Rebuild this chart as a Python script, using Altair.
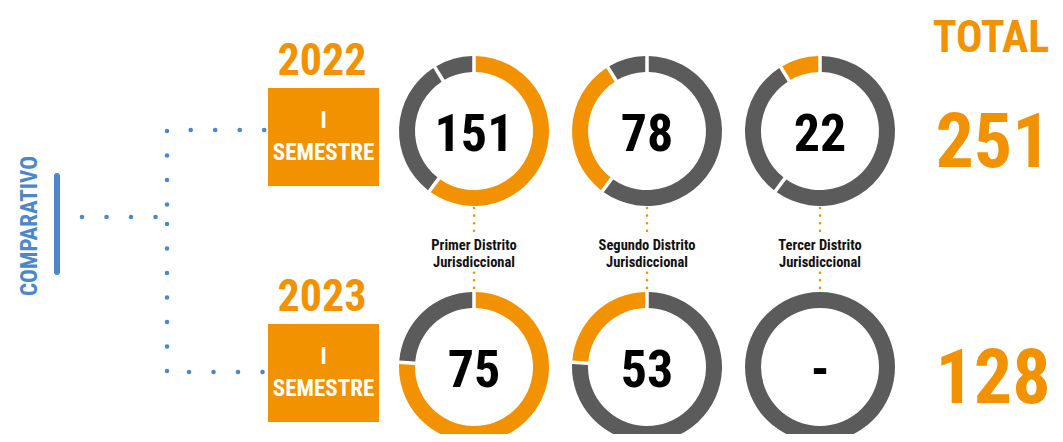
import altair as alt
import pandas as pd

# ---------------- data ----------------
distritos = ["Primer Distrito", "Segundo Distrito", "Tercer Distrito"]
etiquetas_distrito = ["Primer Distrito\nJurisdiccional",
                      "Segundo Distrito\nJurisdiccional",
                      "Tercer Distrito\nJurisdiccional"]
anios = ["2022", "2023"]
casos_2022 = [151, 78, 22]
casos_2023 = [75, 53, 0]
totales = [251, 128]
# shares of each ring as they are drawn in the picture
anillo_2022 = [151, 78, 22]
anillo_2023 = [76, 24, 0]
periodo = ["I", "SEMESTRE"]

# ---------------- styles ----------------
NARANJA = "#F39200"
GRIS = "#5B5B5B"
AZUL = "#4A88CA"
NEGRO = "#000000"
FUENTE = "Roboto Condensed, Liberation Sans Narrow, Arial Narrow, DejaVu Sans Condensed, sans-serif"

# ---------------- tables ----------------
filas = []
for anio, casos, anillo in [("2022", casos_2022, anillo_2022), ("2023", casos_2023, anillo_2023)]:
    total = sum(anillo)
    for i, d in enumerate(distritos):
        if casos[i] == 0:
            filas.append(dict(distrito=d, anio=anio, ini=0.0, fin=1.0, tono="resto"))
            continue
        acc = 0
        for j, v in enumerate(anillo):
            if v == 0:
                continue
            filas.append(dict(distrito=d, anio=anio, ini=acc / total, fin=(acc + v) / total,
                              tono="distrito" if j == i else "resto"))
            acc += v
arcos = pd.DataFrame(filas)

valores = pd.DataFrame(
    [dict(distrito=d, anio=a, texto=(str(c) if c else "-"))
     for a, cs in [("2022", casos_2022), ("2023", casos_2023)]
     for d, c in zip(distritos, cs)]
)
tabla_distritos = pd.DataFrame({"distrito": distritos, "etiqueta": etiquetas_distrito})
tabla_anios = pd.DataFrame({"anio": anios, "total": [str(t) for t in totales],
                            "p1": [periodo[0]] * 2, "p2": [periodo[1]] * 2})
uno = pd.DataFrame({"k": [0]})

# ---------------- shared scales ----------------
X = alt.X("distrito:N", scale=alt.Scale(type="point", domain=distritos, range=[466, 812], padding=0), axis=None)
Y = alt.Y("anio:N", scale=alt.Scale(type="point", domain=anios, range=[123, 359], padding=0), axis=None)

# donuts
donas = alt.Chart(arcos).mark_arc(outerRadius=75, innerRadius=59, padAngle=0.037).encode(
    x=X, y=Y,
    theta=alt.Theta("ini:Q", scale=alt.Scale(domain=[0, 1], range=[0, 6.283185307179586])),
    theta2=alt.Theta2("fin:Q"),
    color=alt.Color("tono:N", scale=alt.Scale(domain=["distrito", "resto"], range=[NARANJA, GRIS]), legend=None),
)

numeros = alt.Chart(valores).mark_text(font=FUENTE, fontSize=52, fontWeight="bold", color=NEGRO,
                                       baseline="alphabetic", align="center", dy=20).encode(
    x=X, y=Y, text="texto:N")

# orange dotted connectors and district names
conector_sup = alt.Chart(tabla_distritos).mark_rule(color=NARANJA, strokeWidth=2.6, strokeCap="round",
                                                   strokeDash=[0.01, 7.6]).encode(
    x=X, y=alt.value(200), y2=alt.value(223.5))
conector_inf = alt.Chart(tabla_distritos).mark_rule(color=NARANJA, strokeWidth=2.6, strokeCap="round",
                                                   strokeDash=[0.01, 7.6]).encode(
    x=X, y=alt.value(264.7), y2=alt.value(280.5))
nombres = alt.Chart(tabla_distritos).mark_text(font=FUENTE, fontSize=14.5, fontWeight="bold", color="#111111",
                                               baseline="alphabetic", align="center", lineBreak="\n",
                                               lineHeight=17).encode(
    x=X, y=alt.value(241.5), text="etiqueta:N")

# year labels, boxes, totals
anio_txt = alt.Chart(tabla_anios).mark_text(font=FUENTE, fontSize=44, fontWeight="bold", color=NARANJA,
                                            baseline="alphabetic", align="center", dy=-56).encode(
    x=alt.value(314), y=Y, text="anio:N")
caja = alt.Chart(tabla_anios).mark_point(shape="M-1,-0.883L1,-0.883L1,0.883L-1,0.883Z", size=111 * 111,
                                         filled=True, opacity=1, color=NARANJA, strokeWidth=0,
                                         yOffset=6).encode(
    x=alt.value(315.5), y=Y)
p1 = alt.Chart(tabla_anios).mark_text(font=FUENTE, fontSize=23, fontWeight="bold", color="white",
                                      baseline="alphabetic", align="center", dy=-3).encode(
    x=alt.value(315.5), y=Y, text="p1:N")
p2 = alt.Chart(tabla_anios).mark_text(font=FUENTE, fontSize=23, fontWeight="bold", color="white",
                                      baseline="alphabetic", align="center", dy=29).encode(
    x=alt.value(315.5), y=Y, text="p2:N")
total_txt = alt.Chart(tabla_anios).mark_text(font=FUENTE, fontSize=76, fontWeight="bold", color=NARANJA,
                                             baseline="alphabetic", align="center", dy=36).encode(
    x=alt.value(985), y=Y, text="total:N")
total_titulo = alt.Chart(uno).mark_text(font=FUENTE, fontSize=44, fontWeight="bold", color=NARANJA,
                                        baseline="alphabetic", align="center", text="TOTAL").encode(
    x=alt.value(983), y=alt.value(44))

# blue connectors
def puntos(x, y, x2=None, y2=None):
    enc = dict(x=alt.value(x), y=alt.value(y))
    if x2 is not None:
        enc["x2"] = alt.value(x2)
    if y2 is not None:
        enc["y2"] = alt.value(y2)
    return alt.Chart(uno).mark_rule(color=AZUL, strokeWidth=4.6, strokeCap="round",
                                    strokeDash=[0.01, 24.5]).encode(**enc)

azules = [
    puntos(74, 209, x2=148),
    puntos(159, 123, y2=197),
    puntos(159, 216, y2=364),
    puntos(182.7, 122, x2=257),
    puntos(181, 364, x2=256),
]
barra = alt.Chart(uno).mark_rule(color=AZUL, strokeWidth=6, strokeCap="round").encode(
    x=alt.value(49), y=alt.value(168), y2=alt.value(264))
comparativo = alt.Chart(uno).mark_text(font=FUENTE, fontSize=23, fontWeight="bold", color=AZUL, angle=270,
                                       baseline="middle", align="center", text="COMPARATIVO").encode(
    x=alt.value(22), y=alt.value(218))

chart = alt.layer(
    donas, numeros, conector_sup, conector_inf, nombres,
    anio_txt, caja, p1, p2, total_txt, total_titulo,
    *azules, barra, comparativo,
).properties(width=1047, height=426, padding=0, autosize="none", background="white"
).configure_view(strokeWidth=0)

chart.save("out.html", embed_options={"renderer": "svg", "actions": False})
